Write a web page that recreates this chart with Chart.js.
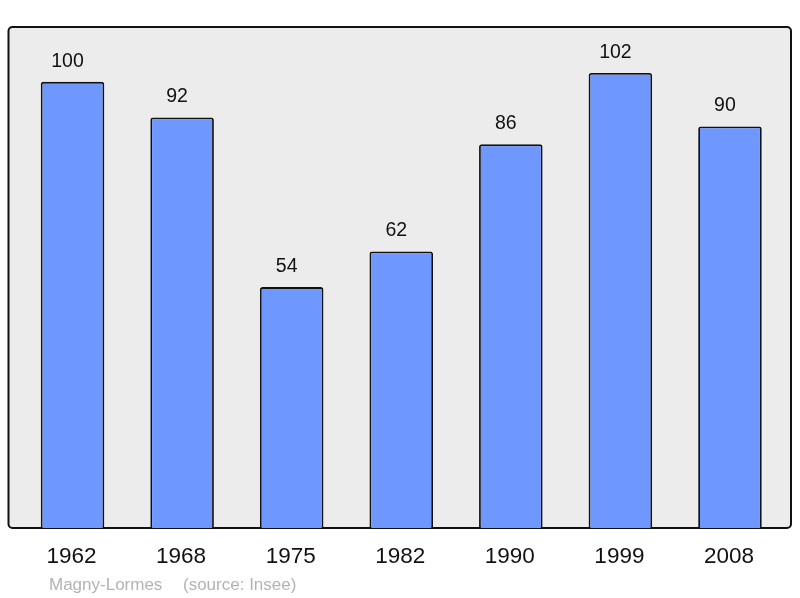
<!DOCTYPE html>
<html>
<head>
<meta charset="utf-8">
<script src="https://cdn.jsdelivr.net/npm/chart.js@4"></script>
<style>
  html, body { margin: 0; padding: 0; background: #fff; }
  #wrap { width: 800px; height: 598px; }
</style>
</head>
<body>
<div id="wrap"><canvas id="c" width="800" height="598"></canvas></div>
<script>
const years = ["1962", "1968", "1975", "1982", "1990", "1999", "2008"];
const population = [100, 92, 54, 62, 86, 102, 90];
const yMax = 112.3;

const FONT = "'Liberation Sans', Arial, sans-serif";

// grey frame behind the bars, x labels and value labels on top
const decor = {
  id: "decor",
  beforeDraw(chart) {
    const ctx = chart.ctx;
    ctx.save();
    ctx.fillStyle = "#ececec";
    ctx.strokeStyle = "#111";
    ctx.lineWidth = 2;
    ctx.beginPath();
    ctx.roundRect(8.5, 27, 782.5, 501, 4);
    ctx.fill();
    ctx.stroke();
    ctx.restore();
  },
  afterDatasetsDraw(chart) {
    const ctx = chart.ctx;
    const meta = chart.getDatasetMeta(0);
    ctx.save();
    ctx.fillStyle = "#111";
    ctx.textAlign = "center";
    ctx.textBaseline = "middle";
    ctx.font = "19.5px " + FONT;
    meta.data.forEach((bar, i) => {
      ctx.fillText(String(population[i]), bar.x - 5, bar.y - 20.5);
    });
    ctx.font = "22.5px " + FONT;
    meta.data.forEach((bar, i) => {
      ctx.fillText(years[i], bar.x - 1, 557);
    });
    ctx.textAlign = "left";
    ctx.fillStyle = "#b3b3b3";
    ctx.font = "17px " + FONT;
    ctx.fillText("Magny-Lormes", 49, 585);
    ctx.fillText("(source: Insee)", 183, 585);
    ctx.restore();
  }
};

new Chart(document.getElementById("c"), {
  type: "bar",
  data: {
    labels: years,
    datasets: [{
      data: population,
      backgroundColor: "#6f98ff",
      borderColor: "#111",
      borderWidth: 1.8,
      borderRadius: 2.5,
      borderSkipped: "bottom",
      barPercentage: 1,
      categoryPercentage: 0.58
    }]
  },
  options: {
    responsive: false,
    animation: false,
    layout: { padding: { left: 17.75, right: 15.25, top: 27, bottom: 70 } },
    plugins: { legend: { display: false }, tooltip: { enabled: false } },
    scales: {
      x: { display: false },
      y: { display: false, min: 0, max: yMax }
    }
  },
  plugins: [decor]
});
</script>
</body>
</html>
